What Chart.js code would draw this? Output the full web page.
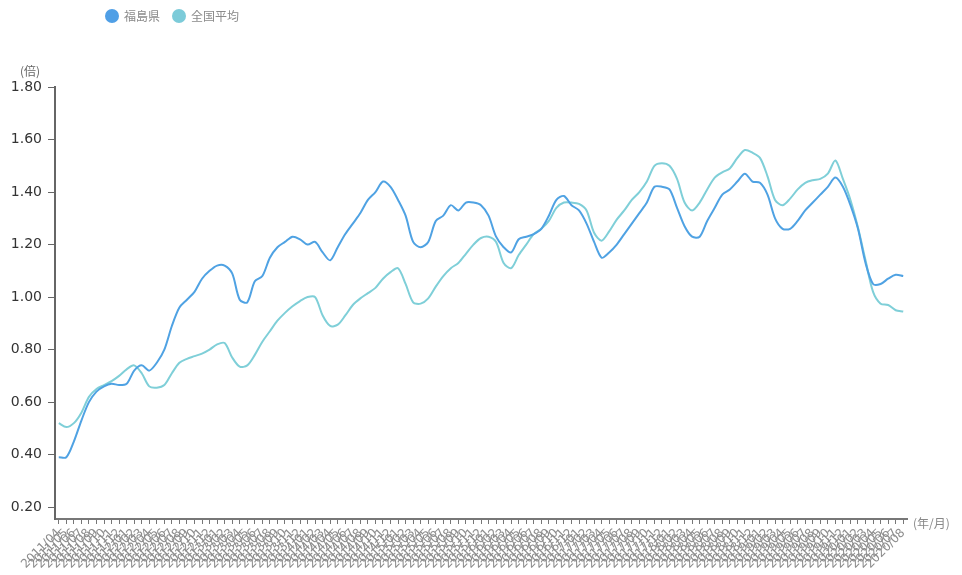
<!DOCTYPE html>
<html>
<head>
<meta charset="utf-8">
<script src="https://cdn.jsdelivr.net/npm/chart.js@4"></script>
<style>
  html, body { margin: 0; padding: 0; background: #fff; }
  #wrap { position: relative; width: 962px; height: 575px; overflow: hidden; }
  #legend { position: absolute; left: 105px; top: 7px; font: 12px "Noto Sans CJK JP", sans-serif; color: #8a8a8a; display: flex; gap: 12px; }
  #legend span { display: flex; align-items: center; }
  #legend i { display: inline-block; width: 14px; height: 14px; border-radius: 50%; margin-right: 5px; }
</style>
</head>
<body>
<div id="wrap">
  <canvas id="chart" width="962" height="575"></canvas>
  <div id="legend">
    <span><i style="background:#4f9fe6"></i>福島県</span>
    <span><i style="background:#7ccbd9"></i>全国平均</span>
  </div>
</div>
<script>
// Monthly labels 2011/04 .. 2020/08
const months = [];
for (let y = 2011; y <= 2020; y++) {
  for (let m = 1; m <= 12; m++) {
    if ((y === 2011 && m < 4) || (y === 2020 && m > 8)) continue;
    months.push(y + '/' + String(m).padStart(2, '0'));
  }
}

const yTicks = [0.2, 0.4, 0.6, 0.8, 1.0, 1.2, 1.4, 1.6, 1.8];

// 福島県
const fukushima = [
  0.39, 0.39, 0.45, 0.53, 0.60, 0.64, 0.66, 0.67, 0.665, 0.67,
  0.72, 0.74, 0.72, 0.75, 0.80, 0.89, 0.96, 0.99, 1.02, 1.07,
  1.10, 1.12, 1.12, 1.09, 0.99, 0.98, 1.06, 1.08, 1.15, 1.19,
  1.21, 1.23, 1.22, 1.20, 1.21, 1.17, 1.14, 1.19, 1.24, 1.28,
  1.32, 1.37, 1.40, 1.44, 1.42, 1.37, 1.31, 1.21, 1.19, 1.21,
  1.29, 1.31, 1.35, 1.33, 1.36, 1.36, 1.35, 1.31, 1.23, 1.19,
  1.17, 1.22, 1.23, 1.24, 1.26, 1.31, 1.37, 1.385, 1.35, 1.33,
  1.28, 1.21, 1.15, 1.17, 1.20, 1.24, 1.28, 1.32, 1.36, 1.42,
  1.42, 1.41, 1.34, 1.27, 1.23, 1.23, 1.29, 1.34, 1.39, 1.41,
  1.44, 1.47, 1.44, 1.435, 1.39, 1.30, 1.26, 1.26, 1.29, 1.33,
  1.36, 1.39, 1.42, 1.455, 1.42, 1.35, 1.26, 1.13, 1.05, 1.05,
  1.07, 1.085, 1.08
];

// 全国平均
const national = [
  0.52, 0.505, 0.52, 0.56, 0.62, 0.65, 0.665, 0.68, 0.70, 0.725,
  0.74, 0.71, 0.66, 0.655, 0.665, 0.71, 0.75, 0.765, 0.775, 0.785,
  0.80, 0.82, 0.825, 0.77, 0.735, 0.74, 0.78, 0.83, 0.87, 0.91,
  0.94, 0.965, 0.985, 1.00, 1.00, 0.93, 0.89, 0.895, 0.93, 0.97,
  0.995, 1.015, 1.035, 1.07, 1.095, 1.11, 1.05, 0.98, 0.975, 0.995,
  1.04, 1.08, 1.11, 1.13, 1.165, 1.20, 1.225, 1.23, 1.21, 1.13,
  1.11, 1.16, 1.20, 1.24, 1.26, 1.29, 1.34, 1.36, 1.36, 1.355,
  1.33, 1.245, 1.215, 1.25, 1.295, 1.33, 1.37, 1.40, 1.44, 1.50,
  1.51, 1.50, 1.45, 1.36, 1.33, 1.36, 1.41, 1.455, 1.475, 1.49,
  1.53, 1.56, 1.55, 1.53, 1.46, 1.37, 1.35, 1.375, 1.41, 1.435,
  1.445, 1.45, 1.47, 1.52, 1.45, 1.37, 1.265, 1.14, 1.02, 0.975,
  0.97, 0.95, 0.945
];

// unit captions next to the axes
const unitLabels = {
  id: 'unitLabels',
  afterDraw(chart) {
    const { ctx, chartArea } = chart;
    ctx.save();
    ctx.fillStyle = '#666';
    ctx.font = '12px "Noto Sans CJK JP", sans-serif';
    ctx.textBaseline = 'middle';
    ctx.textAlign = 'left';
    ctx.fillText('(倍)', 20, chartArea.top - 16);
    ctx.fillStyle = '#888';
    ctx.fillText('(年/月)', chartArea.right + 6, chartArea.bottom + 4);
    ctx.restore();
  }
};

new Chart(document.getElementById('chart'), {
  type: 'line',
  data: {
    labels: months,
    datasets: [
      { label: '福島県', data: fukushima, borderColor: '#4fa2e3', borderWidth: 2, pointRadius: 0, tension: 0.3, fill: false },
      { label: '全国平均', data: national, borderColor: '#7fcfd8', borderWidth: 2, pointRadius: 0, tension: 0.3, fill: false }
    ]
  },
  options: {
    responsive: false,
    animation: false,
    layout: { padding: { top: 87, right: 55, left: 0, bottom: 0 } },
    plugins: { legend: { display: false }, tooltip: { enabled: false } },
    scales: {
      x: {
        offset: true,
        grid: { drawOnChartArea: false, drawTicks: true, tickLength: 5, color: '#777' },
        border: { display: true, color: '#777', width: 2 },
        ticks: {
          autoSkip: false, minRotation: 45, maxRotation: 45,
          color: '#8c8c8c', font: { size: 12, family: 'DejaVu Sans' }, padding: 2
        },
        afterFit(scale) { scale.height = 56; }
      },
      y: {
        min: 0.155,
        max: 1.8,
        afterBuildTicks(scale) { scale.ticks = yTicks.map(v => ({ value: v })); },
        grid: { drawOnChartArea: false, drawTicks: true, tickLength: 7, color: '#666' },
        border: { display: true, color: '#666', width: 2 },
        ticks: {
          color: '#333', font: { size: 14, family: 'DejaVu Sans' }, padding: 6,
          callback: v => v.toFixed(2)
        },
        afterFit(scale) { scale.width = 55; }
      }
    }
  },
  plugins: [unitLabels]
});
</script>
</body>
</html>
